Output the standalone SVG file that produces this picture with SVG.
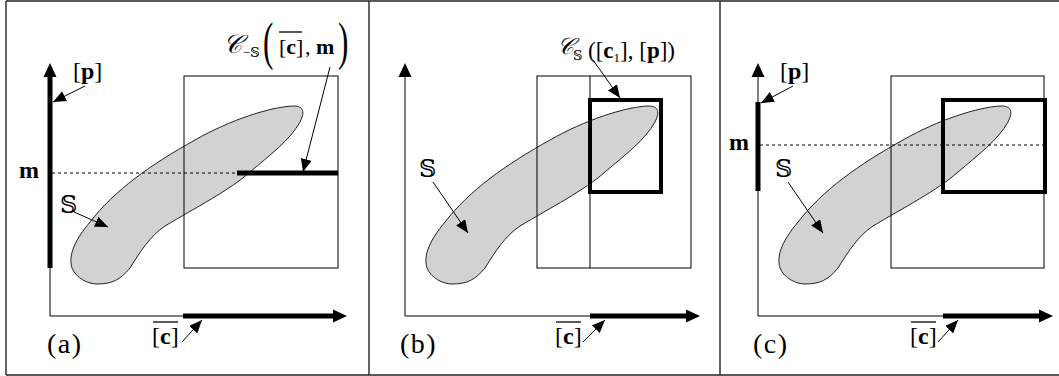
<svg xmlns="http://www.w3.org/2000/svg" width="1059" height="376" viewBox="0 0 1059 376">
<style>
text{font-family:"Liberation Serif","DejaVu Serif","DejaVu Sans","Noto Sans",serif;fill:#000}
.lbl{font-size:24px}
.b{font-weight:bold}
.thin{stroke:#000;stroke-width:1;fill:none}
.thick{stroke:#000;stroke-width:5;fill:none}
.box{stroke:#000;stroke-width:4;fill:none}
.dash{stroke:#000;stroke-width:1;stroke-dasharray:3 3;fill:none}
.ptr{stroke:#000;stroke-width:1;fill:none;marker-end:url(#ah)}
.frame{stroke:#222;stroke-width:1.4;fill:none}
.blob{fill:#d2d2d2;stroke:#222;stroke-width:1}
.ov{stroke:#000;stroke-width:1.3}
</style>
<defs>
<marker id="ah" markerUnits="userSpaceOnUse" markerWidth="14" markerHeight="12" refX="13" refY="5.5" orient="auto"><path d="M0,0 L13,5.5 L0,11 Z" fill="#000"/></marker>
<path id="blobShape" d="M97,284 C112,284 120,280 130,268 C140,252 150,236 165,226 C195,208 230,190 250,172 C270,155 290,140 300,122 C306,110 302,106 293,106 C270,107 230,120 195,140 C150,165 115,190 90,222 C75,240 68,255 72,268 C76,278 88,284 97,284 Z"/>
</defs>

<g id="frame">
<line class="frame" x1="6" y1="1" x2="1059" y2="1"/>
<line class="frame" x1="6" y1="375" x2="1059" y2="375"/>
<line class="frame" x1="6" y1="1" x2="6" y2="375"/>
<line class="frame" x1="369" y1="1" x2="369" y2="375"/>
<line class="frame" x1="720" y1="1" x2="720" y2="375"/>
</g>

<!-- Panel (a) -->
<g id="panel-a">
<g id="a-blob"><use href="#blobShape" class="blob"/></g>
<g id="a-rect"><rect class="thin" x="184" y="76" width="154" height="192"/></g>
<g id="a-axes">
<line class="thin" x1="50" y1="316" x2="50" y2="75"/>
<line class="thick" x1="50" y1="76" x2="50" y2="268"/>
<path d="M50,63 L43.5,77 L56.5,77 Z" fill="#000"/>
<line class="thin" x1="50" y1="316" x2="334" y2="316"/>
<line class="thick" x1="183" y1="316" x2="334" y2="316"/>
<path d="M347,316 L333,309.5 L333,322.5 Z" fill="#000"/>
</g>
<g id="a-cut">
<line class="dash" x1="52" y1="173" x2="237" y2="173"/>
<line class="thick" x1="237" y1="173" x2="338" y2="173"/>
</g>
<g id="a-labels">
<text class="lbl" x="73" y="79">[<tspan class="b">p</tspan>]</text>
<text class="lbl b" x="19" y="178" font-size="25">m</text>
<text class="lbl" x="60" y="213">𝕊</text>
<text class="lbl" x="152" y="344">[<tspan class="b">c</tspan>]</text>
<line class="ov" x1="153" y1="322" x2="178" y2="322"/>
<text x="47" y="353" font-size="28" letter-spacing="1.5">(a)</text>
<g id="a-C">
<text x="223" y="53" font-size="26" font-style="italic">𝒞</text>
<text x="243" y="57" font-size="13">−𝕊</text>
<text transform="translate(263,59) scale(0.6,1)" font-size="52">(</text>
<text x="279" y="54" font-size="22">[<tspan class="b">c</tspan>]</text>
<line class="ov" x1="279" y1="32" x2="302" y2="32"/>
<text x="305" y="54" font-size="22">, <tspan class="b">m</tspan></text>
<text transform="translate(338,59) scale(0.6,1)" font-size="52">)</text>
</g>
</g>
</g>

<!-- Panel (b) -->
<g id="panel-b">
<g id="b-blob"><use href="#blobShape" class="blob" transform="translate(355,0)"/></g>
<g id="b-rects">
<rect class="thin" x="537" y="76" width="154" height="192"/>
<line class="thin" x1="590" y1="76" x2="590" y2="268"/>
<rect class="box" x="590" y="100" width="71" height="92"/>
</g>
<g id="b-axes">
<line class="thin" x1="405" y1="316" x2="405" y2="75"/>
<path d="M405,63 L398.5,77 L411.5,77 Z" fill="#000"/>
<line class="thin" x1="405" y1="316" x2="687" y2="316"/>
<line class="thick" x1="590" y1="316" x2="687" y2="316"/>
<path d="M700,316 L686,309.5 L686,322.5 Z" fill="#000"/>
</g>
<g id="b-labels">
<text class="lbl" x="419" y="177">𝕊</text>
<text class="lbl" x="555" y="344">[<tspan class="b">c</tspan>]</text>
<line class="ov" x1="556" y1="322" x2="581" y2="322"/>
<text x="400" y="353" font-size="28" letter-spacing="1.5">(b)</text>
<g id="b-C">
<text x="557" y="54" font-size="23" font-style="italic">𝒞</text>
<text x="573" y="60" font-size="13">𝕊</text>
<text x="588" y="58" font-size="23">([<tspan class="b">c</tspan><tspan font-size="13" dy="4">1</tspan><tspan dy="-4">], [</tspan><tspan class="b">p</tspan>])</text>
</g>
</g>
</g>

<!-- Panel (c) -->
<g id="panel-c">
<g id="c-blob"><use href="#blobShape" class="blob" transform="translate(708,0)"/></g>
<g id="c-rects">
<rect class="thin" x="891" y="76" width="153" height="192"/>
<rect class="box" x="943" y="100" width="102" height="92"/>
</g>
<g id="c-axes">
<line class="thin" x1="758" y1="316" x2="758" y2="75"/>
<line class="thick" x1="758" y1="102" x2="758" y2="191"/>
<path d="M758,63 L751.5,77 L764.5,77 Z" fill="#000"/>
<line class="thin" x1="758" y1="316" x2="1040" y2="316"/>
<line class="thick" x1="943" y1="316" x2="1040" y2="316"/>
<path d="M1053,316 L1039,309.5 L1039,322.5 Z" fill="#000"/>
</g>
<g id="c-cut"><line class="dash" x1="760" y1="145" x2="1045" y2="145"/></g>
<g id="c-labels">
<text class="lbl" x="780" y="79">[<tspan class="b">p</tspan>]</text>
<text class="lbl b" x="729" y="150" font-size="25">m</text>
<text class="lbl" x="775" y="177">𝕊</text>
<text class="lbl" x="910" y="344">[<tspan class="b">c</tspan>]</text>
<line class="ov" x1="911" y1="322" x2="936" y2="322"/>
<text x="753" y="353" font-size="28" letter-spacing="1.5">(c)</text>
</g>
</g>

<g id="connectors">
<line class="ptr" x1="85" y1="86" x2="53" y2="102"/>
<line class="ptr" x1="74" y1="212" x2="108" y2="227"/>
<line class="ptr" x1="182" y1="342" x2="202" y2="320"/>
<line class="ptr" x1="330" y1="67" x2="303" y2="172"/>
<line class="ptr" x1="433" y1="182" x2="468" y2="233"/>
<line class="ptr" x1="593" y1="60" x2="620" y2="98"/>
<line class="ptr" x1="583" y1="342" x2="605" y2="320"/>
<line class="ptr" x1="793" y1="86" x2="761" y2="103"/>
<line class="ptr" x1="788" y1="182" x2="823" y2="233"/>
<line class="ptr" x1="938" y1="342" x2="958" y2="320"/>
</g>
</svg>
